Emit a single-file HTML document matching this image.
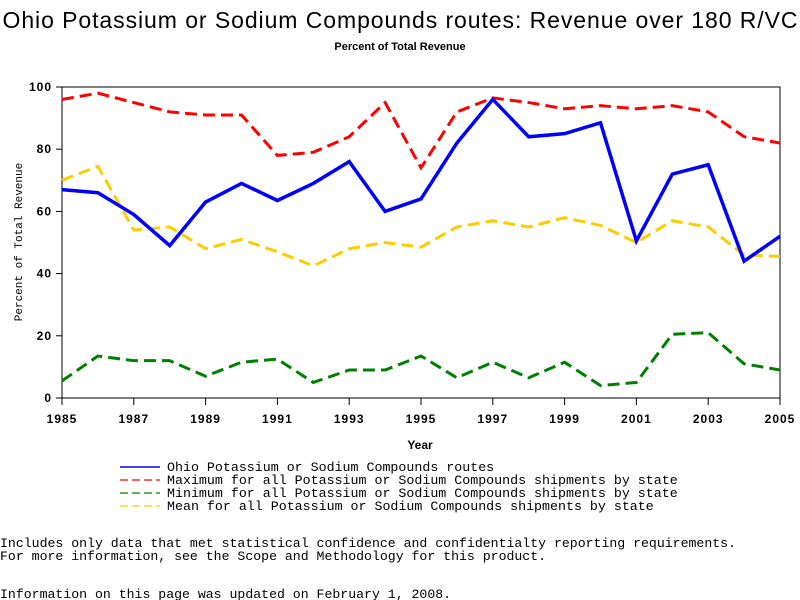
<!DOCTYPE html>
<html><head><meta charset="utf-8"><style>
body{margin:0;background:#fff;width:800px;height:600px;overflow:hidden}
svg{display:block}
</style></head><body>
<svg id="chart" width="800" height="600" xmlns="http://www.w3.org/2000/svg">
<text x="400" y="28" text-anchor="middle" font-family="Liberation Sans, sans-serif" font-size="23" textLength="795">Ohio Potassium or Sodium Compounds routes: Revenue over 180 R/VC</text>
<text x="400" y="50" text-anchor="middle" font-family="Liberation Sans, sans-serif" font-size="11" font-weight="bold">Percent of Total Revenue</text>
<rect x="62" y="87" width="718" height="311" fill="none" stroke="#000" stroke-width="1"/>
<g id="axes"></g>
<g id="series"></g>
<text x="420" y="449" text-anchor="middle" font-family="Liberation Sans, sans-serif" font-size="12" font-weight="bold">Year</text>
<text transform="translate(22,242) rotate(-90)" text-anchor="middle" font-family="Liberation Mono, monospace" font-size="11">Percent of Total Revenue</text>
<g font-family="Liberation Mono, monospace" font-size="13.3">
<g><line x1="120" y1="467" x2="160" y2="467" stroke="#0000ff" stroke-width="1.5"/><text x="167" y="471">Ohio Potassium or Sodium Compounds routes</text></g>
<g><line x1="120" y1="480" x2="160" y2="480" stroke="#ff0000" stroke-width="1.2" stroke-dasharray="8,4"/><text x="167" y="484">Maximum for all Potassium or Sodium Compounds shipments by state</text></g>
<g><line x1="120" y1="493" x2="160" y2="493" stroke="#008000" stroke-width="1.2" stroke-dasharray="8,4"/><text x="167" y="497">Minimum for all Potassium or Sodium Compounds shipments by state</text></g>
<g><line x1="120" y1="506" x2="160" y2="506" stroke="#ffcc00" stroke-width="1.2" stroke-dasharray="8,4"/><text x="167" y="510">Mean for all Potassium or Sodium Compounds shipments by state</text></g>
</g>
<g font-family="Liberation Mono, monospace" font-size="13.2">
<text x="0" y="547">Includes only data that met statistical confidence and confidentialty reporting requirements.</text>
<text x="0" y="560">For more information, see the Scope and Methodology for this product.</text>
<text x="0" y="598">Information on this page was updated on February 1, 2008.</text>
</g>
</svg>
<script>
const years=[1985,1986,1987,1988,1989,1990,1991,1992,1993,1994,1995,1996,1997,1998,1999,2000,2001,2002,2003,2004,2005];
const ohio=[67,66,59,49,63,69,63.5,69,76,60,64,82,96,84,85,88.5,50.5,72,75,44,52];
const maxS=[96,98,95,92,91,91,78,79,84,95,74,92,96.5,95,93,94,93,94,92,84,82];
const minS=[5.5,13.5,12,12,7,11.5,12.5,5,9,9,13.5,6.5,11.5,6.5,11.5,4,5,20.5,21,11,9];
const meanS=[70,74.5,54,55,48,51,47,42.5,48,50,48.5,55,57,55,58,55.5,50,57,55,46,45.5];
const yTicks=[0,20,40,60,80,100];
const xTicks=[1985,1987,1989,1991,1993,1995,1997,1999,2001,2003,2005];
const NS="http://www.w3.org/2000/svg";
const X=v=>62+(v-1985)/20*718;
const Y=v=>398-v/100*311;
const axes=document.getElementById('axes'),ser=document.getElementById('series');
function mk(t,a,p){const e=document.createElementNS(NS,t);for(const k in a)e.setAttribute(k,a[k]);p.appendChild(e);return e;}
yTicks.forEach(t=>{
 const l=mk('line',{x1:56,x2:62,y1:Y(t),y2:Y(t),stroke:'#000'},axes);
 
 
 const tx=mk('text',{x:52,y:Y(t)+4,'text-anchor':'end','font-family':'Liberation Sans, sans-serif','font-size':12,'font-weight':'bold','letter-spacing':1},axes);
 tx.textContent=t;
 
 
});
xTicks.forEach(t=>{
 const l=mk('line',{x1:X(t),x2:X(t),y1:398,y2:405,stroke:'#000'},axes);
 
 
 const tx=mk('text',{x:X(t),y:423,'text-anchor':'middle','font-family':'Liberation Sans, sans-serif','font-size':12,'font-weight':'bold','letter-spacing':1},axes);
 tx.textContent=t;
 
 
});
function line(data,color,dash,w,name){
 const p=mk('polyline',{points:data.map((v,i)=>X(years[i])+','+Y(v)).join(' '),fill:'none',stroke:color,'stroke-width':w,'stroke-dasharray':dash},ser);
 
 
}
line(meanS,'#ffcc00','12,6',3,'mean-line');
line(minS,'#008000','12,6',3,'min-line');
line(maxS,'#ff0000','12,6',3,'max-line');
line(ohio,'#0000ff','none',3.5,'ohio-line');
</script>
</body></html>
